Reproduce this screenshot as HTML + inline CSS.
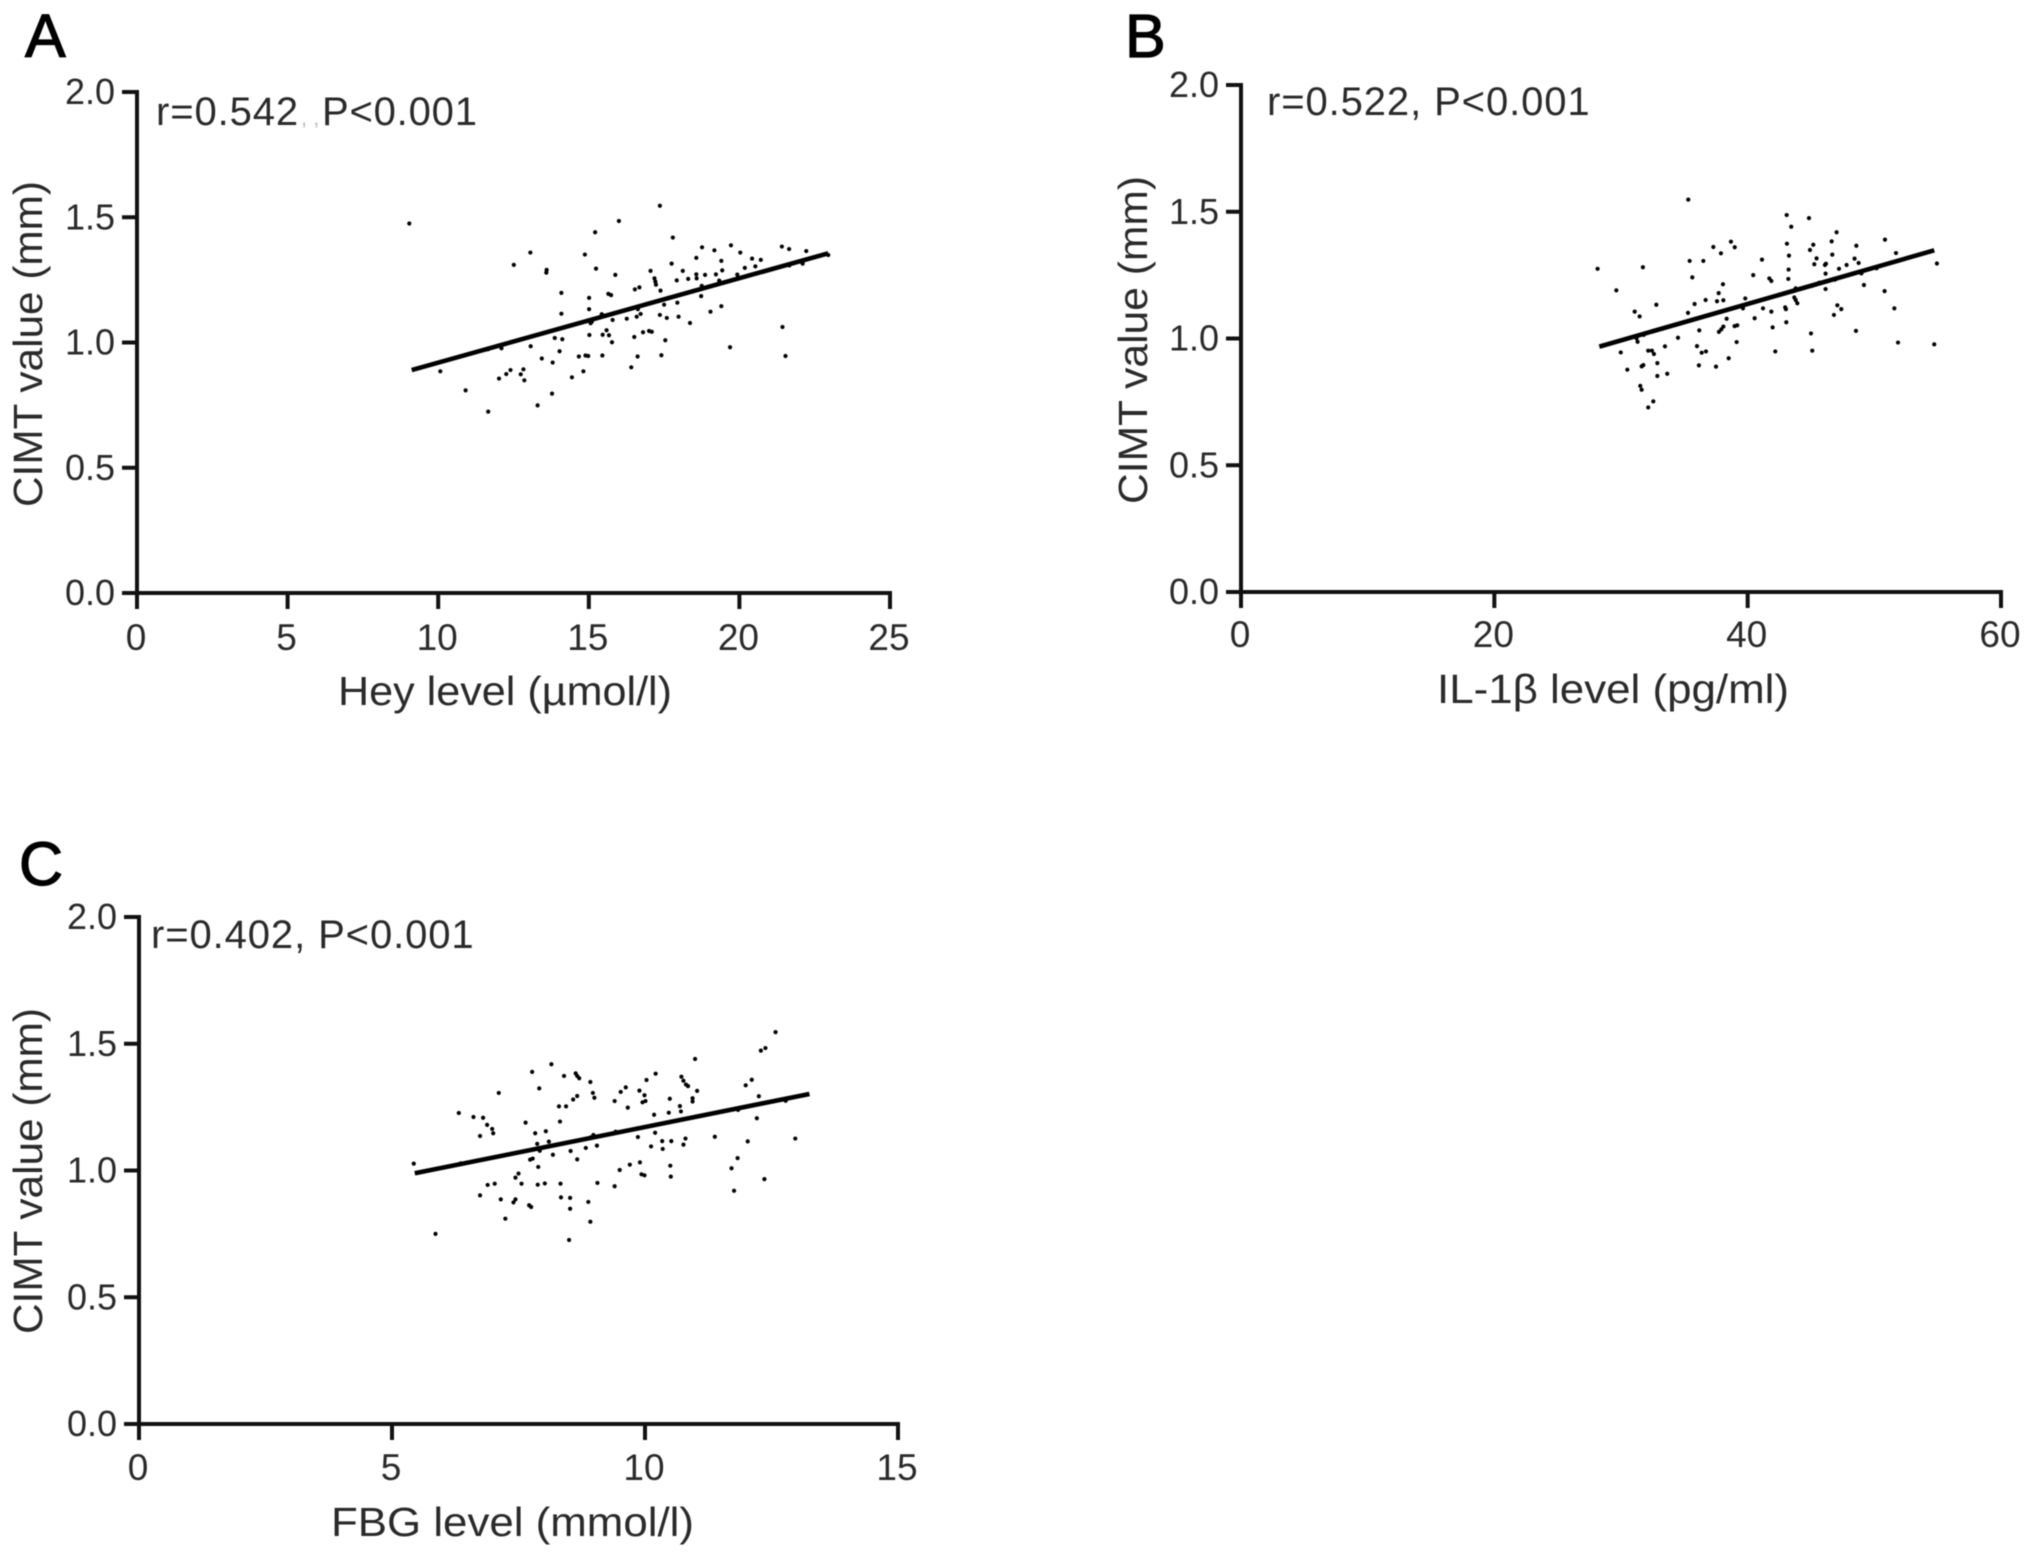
<!DOCTYPE html>
<html lang="en">
<head>
<meta charset="utf-8">
<title>CIMT correlation scatter plots</title>
<style>
  html, body { margin: 0; padding: 0; background: #fff; }
  svg { display: block; font-family: "Liberation Sans", sans-serif; filter: blur(0.55px); }
</style>
</head>
<body>
<svg id="figure" xmlns="http://www.w3.org/2000/svg" width="2031" height="1557" viewBox="0 0 2031 1557"></svg>
<script>
// Shared axis data
const yTickValues = [0, 0.5, 1, 1.5, 2];
const yTickLabels = ["0.0", "0.5", "1.0", "1.5", "2.0"];

// Panel A: Hey level
const heyTickValues = [0, 5, 10, 15, 20, 25];
const heyTickLabels = ["0", "5", "10", "15", "20", "25"];
const heyLevel = [9.04,17.36,16.00,15.21,17.79,13.06,14.87,12.51,13.60,13.59,15.24,15.88,17.05,17.75,18.76,19.17,19.72,20.03,21.41,21.65,22.22,18.57,19.40,20.42,20.71,20.53,20.18,18.12,19.43,19.22,18.86,18.57,18.58,18.30,17.92,17.18,17.21,17.23,16.68,16.53,17.38,19.93,19.33,18.75,21.66,22.10,22.95,14.09,15.01,15.65,15.74,15.01,14.09,18.73,17.50,17.94,19.40,19.04,17.98,18.36,17.59,17.36,16.59,16.72,16.63,16.26,15.79,15.43,15.10,15.06,21.43,19.69,21.53,10.07,10.91,11.66,11.65,12.10,12.02,12.26,12.40,12.74,12.83,12.86,13.30,13.78,13.80,13.44,13.07,13.87,14.12,14.03,14.44,14.82,14.67,14.89,14.98,15.45,15.02,15.46,15.59,15.67,15.77,16.51,16.80,17.00,17.09,17.54,16.62,17.41,16.41];
const heyCimt = [1.475,1.546,1.485,1.440,1.419,1.359,1.351,1.310,1.290,1.279,1.295,1.270,1.286,1.315,1.380,1.368,1.388,1.359,1.383,1.373,1.365,1.338,1.326,1.335,1.330,1.304,1.298,1.286,1.288,1.272,1.270,1.272,1.256,1.254,1.248,1.256,1.243,1.231,1.220,1.212,1.207,1.271,1.247,1.226,1.308,1.315,1.349,1.198,1.178,1.194,1.189,1.133,1.115,1.185,1.151,1.159,1.145,1.123,1.103,1.078,1.098,1.110,1.103,1.114,1.133,1.095,1.090,1.113,1.083,1.077,1.062,0.981,0.946,0.885,0.809,0.724,0.973,0.977,0.856,0.874,0.890,0.873,0.893,0.849,0.749,0.796,0.920,0.936,0.985,1.018,1.013,0.965,0.861,0.885,0.944,0.948,0.946,0.948,1.030,1.031,1.049,1.029,1.001,1.022,1.041,1.046,1.043,1.009,0.944,0.949,0.901];
const heyFitX = [9.12, 22.95];
const heyFitY = [0.890, 1.356];

// Panel B: IL-1 beta level
const ilTickValues = [0, 20, 40, 60];
const ilTickLabels = ["0", "20", "40", "60"];
const ilLevel = [28.15,35.31,43.08,44.84,43.44,47.02,50.84,38.68,38.98,37.29,37.89,46.63,43.10,45.18,44.92,48.58,51.71,41.13,43.26,46.68,45.44,48.44,48.76,35.42,36.50,31.73,45.26,46.18,46.10,47.81,47.21,54.94,43.23,46.15,40.44,35.63,41.71,41.87,43.21,29.63,38.05,49.18,50.81,46.15,43.79,45.65,45.10,46.89,48.98,50.18,37.71,32.79,35.81,36.68,37.58,38.08,39.81,43.68,43.79,43.92,47.08,47.39,51.58,31.08,31.47,35.29,39.63,41.21,41.87,42.96,43.02,46.81,38.34,40.55,43.05,38.08,37.92,37.73,36.18,38.97,39.18,41.97,45.00,48.55,34.50,31.23,31.31,31.79,39.13,36.00,33.47,29.98,32.15,32.44,32.60,36.37,36.71,42.18,45.10,51.87,54.73,38.50,32.87,30.50,31.63,31.76,36.15,37.50,32.87,33.65,31.52,31.63,32.55,32.15];
const ilCimt = [1.275,1.548,1.487,1.475,1.441,1.419,1.390,1.382,1.360,1.361,1.336,1.383,1.374,1.370,1.349,1.366,1.337,1.311,1.327,1.331,1.316,1.315,1.298,1.306,1.306,1.281,1.293,1.295,1.290,1.290,1.275,1.296,1.272,1.256,1.250,1.241,1.237,1.227,1.235,1.190,1.214,1.211,1.187,1.195,1.198,1.220,1.208,1.232,1.257,1.277,1.179,1.133,1.136,1.152,1.147,1.151,1.158,1.162,1.152,1.139,1.131,1.116,1.119,1.106,1.087,1.101,1.119,1.119,1.106,1.123,1.116,1.093,1.078,1.080,1.064,1.047,1.036,1.026,1.032,1.049,1.052,1.044,1.020,1.030,1.003,1.001,0.987,1.014,0.986,0.970,0.969,0.945,0.952,0.952,0.939,0.944,0.949,0.949,0.952,0.984,0.977,0.922,0.903,0.877,0.890,0.895,0.894,0.889,0.852,0.861,0.813,0.798,0.752,0.728];
const ilFitX = [28.29, 54.73];
const ilFitY = [0.968, 1.348];

// Panel C: FBG level
const fbgTickValues = [0, 5, 10, 15];
const fbgTickLabels = ["0", "5", "10", "15"];
const fbgLevel = [12.58,12.38,12.29,10.99,8.15,7.77,8.40,8.63,8.66,8.70,8.92,10.21,10.03,10.72,10.76,10.81,10.85,12.11,11.99,7.91,7.11,8.97,9.00,9.52,9.62,9.89,9.99,10.01,9.95,11.03,10.94,10.94,8.66,8.58,9.40,10.49,12.25,8.30,8.44,9.66,10.69,10.71,10.47,10.18,6.32,6.61,6.80,6.88,8.32,7.64,6.98,7.00,6.74,12.21,7.83,8.04,8.10,8.98,8.93,9.42,10.51,10.20,9.86,11.38,12.97,12.03,10.34,10.52,10.80,10.76,10.12,10.35,7.87,7.92,8.83,9.05,8.53,8.18,8.66,7.73,7.78,11.83,5.43,6.36,7.89,10.50,9.90,9.70,9.50,11.71,10.51,9.93,9.99,7.50,7.44,6.89,7.03,7.56,7.88,8.02,8.33,9.06,9.40,12.36,6.74,7.15,7.44,7.40,8.34,8.52,8.88,11.76,7.71,7.75,8.52,7.24,8.92,5.86,8.50,11.84,12.78];
const fbgCimt = [1.546,1.483,1.473,1.440,1.419,1.389,1.373,1.383,1.373,1.364,1.349,1.382,1.357,1.370,1.354,1.339,1.333,1.358,1.336,1.324,1.306,1.306,1.287,1.310,1.328,1.315,1.297,1.274,1.269,1.314,1.285,1.272,1.294,1.280,1.274,1.283,1.293,1.253,1.253,1.248,1.254,1.233,1.228,1.220,1.227,1.211,1.208,1.180,1.193,1.189,1.164,1.147,1.136,1.206,1.147,1.155,1.114,1.140,1.131,1.153,1.193,1.149,1.132,1.133,1.126,1.115,1.116,1.116,1.126,1.102,1.095,1.085,1.105,1.078,1.089,1.098,1.077,1.062,1.044,1.043,1.047,1.049,1.027,1.028,1.014,1.019,1.032,1.023,1.002,1.009,0.976,0.985,0.981,0.988,0.972,0.943,0.948,0.948,0.944,0.949,0.948,0.951,0.938,0.966,0.902,0.886,0.886,0.874,0.894,0.892,0.876,0.920,0.863,0.856,0.849,0.810,0.798,0.750,0.726,1.239,1.275];
const fbgFitX = [5.45, 13.25];
const fbgFitY = [0.989, 1.302];

const SVG_NS = "http://www.w3.org/2000/svg";
const root = document.getElementById("figure");
const INK = "#111";
const SOFT_INK = "#2a2a2a";

function make(tag, attrs, parent, text) {
  const node = document.createElementNS(SVG_NS, tag);
  for (const key in attrs) node.setAttribute(key, attrs[key]);
  if (text !== undefined) node.textContent = text;
  parent.appendChild(node);
  return node;
}

function drawPanel(cfg) {
  const xScale = v => cfg.x0 + (v / cfg.xMax) * (cfg.x1 - cfg.x0);
  const yScale = v => cfg.y0 - (v / 2) * (cfg.y0 - cfg.y2);

  const panel = make("g", {}, root);
  
  

  const letter = make("text", { x: cfg.letterX, y: cfg.letterY, "font-size": 61, fill: "#000", stroke: "#000", "stroke-width": 1.2 }, panel, cfg.letter);
  
  

  const yAxis = make("line", { x1: cfg.x0, x2: cfg.x0, y1: yScale(2) - 2, y2: cfg.y0 + 2, stroke: INK, "stroke-width": 4 }, panel);
  
  

  const xAxis = make("line", { x1: cfg.x0 - 2, x2: cfg.x1 + 2, y1: cfg.y0, y2: cfg.y0, stroke: INK, "stroke-width": 4 }, panel);
  
  

  yTickValues.forEach((v, i) => {
    const tick = make("line", { x1: cfg.x0 - 15, x2: cfg.x0, y1: yScale(v), y2: yScale(v), stroke: INK, "stroke-width": 4 }, panel);
    
    
    const label = make("text", { x: cfg.x0 - 22, y: yScale(v) + 12, "font-size": 36, "text-anchor": "end", fill: SOFT_INK }, panel, yTickLabels[i]);
    
    
  });

  cfg.xTicks.forEach((v, i) => {
    const tick = make("line", { x1: xScale(v), x2: xScale(v), y1: cfg.y0, y2: cfg.y0 + 16, stroke: INK, "stroke-width": 4 }, panel);
    
    
    const label = make("text", { x: xScale(v) - 1, y: cfg.xTickY, "font-size": 37, "text-anchor": "middle", fill: SOFT_INK }, panel, cfg.xTickLabels[i]);
    
    
  });

  const xTitle = make("text", { x: cfg.xTitleX, y: cfg.xTitleY, "font-size": 41, fill: SOFT_INK, textLength: cfg.xTitleW, lengthAdjust: "spacingAndGlyphs" }, panel, cfg.xTitle);
  
  

  const yTitle = make("text", { transform: "translate(" + cfg.yTitleX + "," + cfg.yTitleY + ") rotate(-90)", "font-size": 41, "text-anchor": "middle", fill: SOFT_INK, textLength: cfg.yTitleW, lengthAdjust: "spacingAndGlyphs" }, panel, "CIMT value (mm)");
  
  

  const stat = make("text", { y: cfg.statY, "font-size": 40, fill: SOFT_INK }, panel);
  
  
  cfg.statParts.forEach(part => {
    const attrs = { x: part.x, "letter-spacing": part.spacing };
    if (part.faint) {
      attrs.fill = "#bdbdbd";
      attrs["font-size"] = 22;
    }
    make("tspan", attrs, stat, part.text);
  });

  const dots = make("g", { fill: "#000" }, panel);
  
  
  cfg.xs.forEach((v, i) => {
    const dot = make("circle", { cx: xScale(v), cy: yScale(cfg.ys[i]), r: 2.1 }, dots);
    
    
  });

  const fit = make("line", { x1: xScale(cfg.fitX[0]), y1: yScale(cfg.fitY[0]), x2: xScale(cfg.fitX[1]), y2: yScale(cfg.fitY[1]), stroke: "#000", "stroke-width": 4.6 }, panel);
  
  
}

drawPanel({
  name: "hey", letter: "A", letterX: 25, letterY: 57,
  x0: 137, x1: 890, y0: 593, y2: 92, xMax: 25,
  xTicks: heyTickValues, xTickLabels: heyTickLabels, xTickY: 650,
  xTitle: "Hey level (\u00b5mol/l)", xTitleX: 338, xTitleY: 705, xTitleW: 334,
  yTitleX: 42, yTitleY: 344, yTitleW: 326,
  statY: 125,
  statParts: [
    { text: "r=0.542", x: 156, spacing: 0.9 },
    { text: ", ,", x: 301, spacing: 0, faint: true },
    { text: "P<0.001", x: 322, spacing: 0.8 }
  ],
  xs: heyLevel, ys: heyCimt, fitX: heyFitX, fitY: heyFitY
});

drawPanel({
  name: "il-1-beta", letter: "B", letterX: 1125, letterY: 57,
  x0: 1241, x1: 2001, y0: 592, y2: 85, xMax: 60,
  xTicks: ilTickValues, xTickLabels: ilTickLabels, xTickY: 647,
  xTitle: "IL-1\u03b2 level (pg/ml)", xTitleX: 1437, xTitleY: 703, xTitleW: 352,
  yTitleX: 1147, yTitleY: 340, yTitleW: 328,
  statY: 115,
  statParts: [{ text: "r=0.522, P<0.001", x: 1267, spacing: 0.9 }],
  xs: ilLevel, ys: ilCimt, fitX: ilFitX, fitY: ilFitY
});

drawPanel({
  name: "fbg", letter: "C", letterX: 19, letterY: 885,
  x0: 139, x1: 898, y0: 1424, y2: 917, xMax: 15,
  xTicks: fbgTickValues, xTickLabels: fbgTickLabels, xTickY: 1480,
  xTitle: "FBG level (mmol/l)", xTitleX: 331, xTitleY: 1536, xTitleW: 363,
  yTitleX: 42, yTitleY: 1171, yTitleW: 326,
  statY: 948,
  statParts: [{ text: "r=0.402, P<0.001", x: 151, spacing: 0.9 }],
  xs: fbgLevel, ys: fbgCimt, fitX: fbgFitX, fitY: fbgFitY
});
</script>
</body>
</html>
